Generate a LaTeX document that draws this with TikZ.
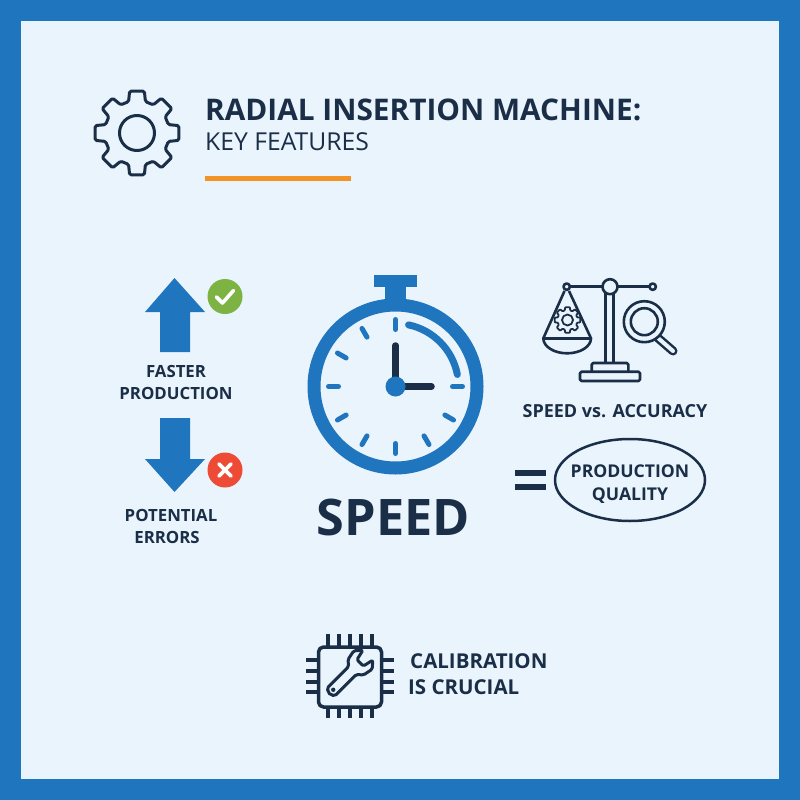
\documentclass[tikz,border=0pt]{standalone}
\usepackage{fontspec}
\setmainfont{Open Sans}
\usetikzlibrary{calc}
\definecolor{frameblue}{HTML}{1F76BE}
\definecolor{panelblue}{HTML}{EAF4FC}
\definecolor{navy}{HTML}{1B2E47}
\definecolor{markorange}{HTML}{F39325}
\definecolor{okgreen}{HTML}{7CB342}
\definecolor{badred}{HTML}{EE4B36}
\tikzset{
	label/.style={font=\bfseries\fontsize{16.8}{16.8}\selectfont, text=navy, inner sep=0pt},
	icon/.style={draw=navy, line width=2.6pt, line join=round},
	tick/.style={draw=frameblue, line width=5pt, line cap=round},
	hand/.style={draw=navy, line width=6.5pt, line cap=round},
}
% gear outline: centre, outer radius, root radius, half widths of tooth top and foot
\newcommand{\gearline}[6][]{\draw[#1] ([shift={(90-#6:#4)}]#2) \foreach \a in {90,135,...,405} {-- ([shift={(\a-#6:#4)}]#2) -- ([shift={(\a-#5:#3)}]#2) -- ([shift={(\a+#5:#3)}]#2) -- ([shift={(\a+#6:#4)}]#2)} -- cycle;}

\begin{document}
\begin{tikzpicture}[x=1pt, y=1pt]
	%%%%% FRAME %%%%%
	\useasboundingbox (0, 0) rectangle (800, -800);
	\fill[frameblue] (0, 0) rectangle (800, -800);
	\fill[panelblue] (21, -21) rectangle (779, -779);

	%%%%% TITLE %%%%%
	\coordinate (gearc) at (137, -133);
	\gearline[icon, line width=3pt, rounded corners=1.5pt]{gearc}{42.5}{32.5}{10}{15}
	\draw[icon, line width=3pt] (gearc) circle (17.5);
	\node[label, anchor=west, font=\bfseries\fontsize{29.8}{29.8}\selectfont] (title) at (205, -110) {RADIAL INSERTION MACHINE:};
	\node[label, anchor=west, font=\fontsize{24.7}{24.7}\selectfont] (subtitle) at (205, -142) {KEY FEATURES};
	\fill[markorange] (205, -176) rectangle (351, -181);

	%%%%% LEFT ARROWS %%%%%
	\fill[frameblue] (174.5, -278) -- (205, -312) -- (190, -312) -- (190, -352) -- (160, -352) -- (160, -312) -- (145, -312) -- cycle;
	\fill[frameblue] (174.5, -492) -- (205, -459) -- (190, -459) -- (190, -418) -- (160, -418) -- (160, -459) -- (145, -459) -- cycle;
	\fill[okgreen] (225, -296.5) circle (17.5);
	\draw[white, line width=3.6pt, line cap=round, line join=round] (216.5, -297) -- (222.5, -303) -- (233.5, -290.5);
	\fill[badred] (225, -470) circle (17.5);
	\draw[white, line width=3.6pt, line cap=round] (219, -464) -- (231, -476);
	\draw[white, line width=3.6pt, line cap=round] (219, -476) -- (231, -464);
	\node[label] (faster) at (176, -371) {FASTER};
	\node[label] (production) at (176, -393) {PRODUCTION};
	\node[label] (potential) at (171, -515) {POTENTIAL};
	\node[label] (errors) at (167, -537) {ERRORS};

	%%%%% STOPWATCH %%%%%
	\coordinate (watch) at (395.5, -386.5);
	\fill[frameblue] (374, -275) rectangle (417, -287);
	\fill[frameblue] (385, -287) rectangle (406, -305);
	\draw[frameblue, line width=13pt] (watch) circle (81.5);
	\foreach \a in {90,120,...,360} {
		\draw[tick] ([shift={(\a:57)}]watch) -- ([shift={(\a:67)}]watch);
	}
	\draw[frameblue, line width=7pt, line cap=round] ([shift={(78:63)}]watch) arc (78:11:63);
	\draw[hand] (watch) -- ++(0, 41);
	\draw[hand] (watch) -- ++(36, 0);
	\fill[frameblue] (watch) circle (10);
	\node[label, font=\bfseries\fontsize{50.4}{50.4}\selectfont] (speed) at (393.5, -517) {SPEED};

	%%%%% SCALE %%%%%
	\draw[icon] (566.7, -286.7) -- (652.7, -286.7);
	\draw[icon, fill=panelblue] (605.5, -363) rectangle (613.5, -293);
	\draw[icon, fill=panelblue] (610, -286.7) circle (7.5);
	\draw[icon, fill=panelblue] (566.7, -286.7) circle (3.2);
	\draw[icon, fill=panelblue] (652.7, -286.7) circle (3.2);
	\draw[icon] (564.5, -291) -- (543.3, -338.3) arc (180:360:23.85 and 15) -- (569, -291);
	\draw[icon] (543.3, -338.3) -- (591, -338.3);
	\coordinate (pangear) at (567.5, -320);
	\gearline[icon, line width=1.8pt, rounded corners=0.6pt]{pangear}{13}{10}{10}{16}
	\draw[icon, line width=1.8pt] (pangear) circle (5.5);
	\draw[icon, rounded corners=1.5pt] (591.7, -371.7) -- (591.7, -363) -- (628.3, -363) -- (628.3, -371.7);
	\draw[icon, rounded corners=1.5pt] (580, -381) rectangle (640, -371.7);
	\coordinate (lens) at (644.3, -321.7);
	\draw[navy, line width=9pt, line cap=round] (658, -338) -- (673, -351);
	\draw[panelblue, line width=4pt, line cap=round] (658, -338) -- (673, -351);
	\draw[icon, fill=panelblue] (lens) circle (20.5);
	\draw[icon] (lens) circle (13.5);
	\node[label, font=\bfseries\fontsize{18}{18}\selectfont] (versus) at (615, -411) {SPEED vs. ACCURACY};

	%%%%% EQUALS %%%%%
	\fill[navy] (515, -470) rectangle (546, -476);
	\fill[navy] (515, -484) rectangle (546, -490);
	\draw[navy, line width=2.5pt] (630, -480) ellipse (75 and 41);
	\node[label, font=\bfseries\fontsize{17.6}{17.6}\selectfont] (prod) at (630, -471) {PRODUCTION};
	\node[label, font=\bfseries\fontsize{17.6}{17.6}\selectfont] (quality) at (630, -496) {QUALITY};

	%%%%% CHIP %%%%%
	\draw[icon, line width=3.5pt, rounded corners=5pt] (318.5, -647) rectangle (381.5, -707);
	\foreach \x in {328,339,350,361,372} {
		\draw[icon, line width=3.2pt] (\x, -634) -- (\x, -647);
		\draw[icon, line width=3.2pt] (\x, -707) -- (\x, -718);
	}
	\foreach \y in {660,671,682,692} {
		\draw[icon, line width=3.2pt] (306, -\y) -- (318.5, -\y);
		\draw[icon, line width=3.2pt] (381.5, -\y) -- (394, -\y);
	}
	\begin{scope}[shift={(358, -665)}, rotate=45]
		\draw[icon, line width=3pt, rounded corners=1.5pt] (-8, -5.5) -- (-35, -5.5) arc (270:90:5.5) -- (-8, 5.5) -- (-3, 11) -- (7, 13) -- (14, 7) -- (3, 4.5) -- (3, -4.5) -- (14, -7) -- (7, -13) -- (-3, -11) -- cycle;
		\fill[navy] (-35, 0) circle (2.2);
	\end{scope}
	\node[label, anchor=west, font=\bfseries\fontsize{20.5}{20.5}\selectfont] (calib) at (410, -661) {CALIBRATION};
	\node[label, anchor=west, font=\bfseries\fontsize{20.5}{20.5}\selectfont] (crucial) at (408, -687) {IS CRUCIAL};
	%%%%% END %%%%%
\end{tikzpicture}
\end{document}
